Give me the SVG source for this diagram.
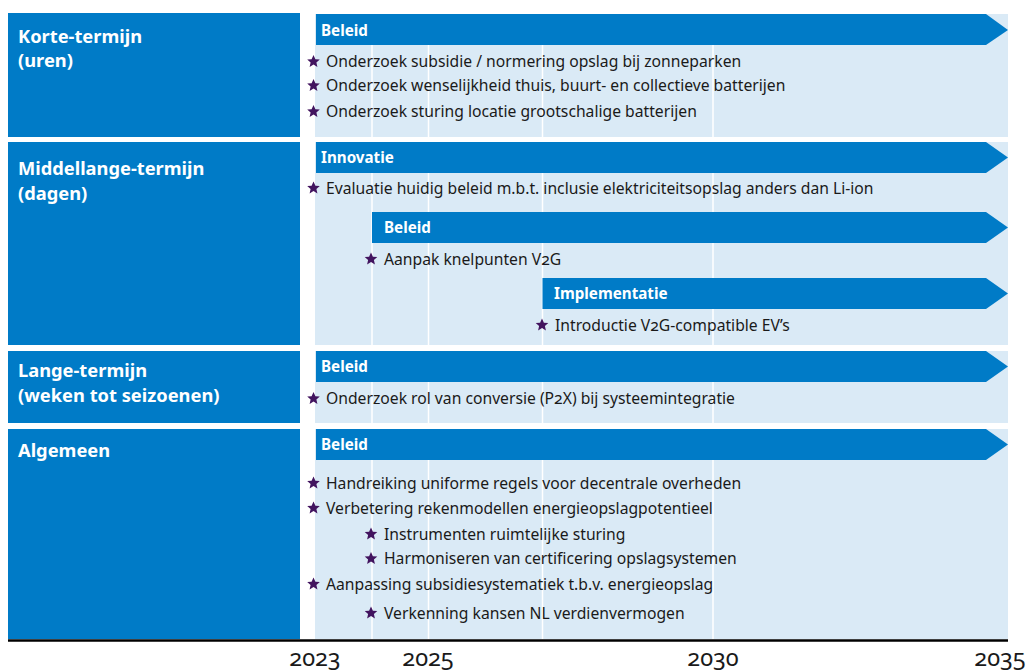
<svg xmlns="http://www.w3.org/2000/svg" width="1028" height="672" viewBox="0 0 1028 672">
<style>
.blk{fill:#007BC7}
.bg{fill:#DAEAF6}
.grid{stroke:#FFFFFF;stroke-width:1.5}
.bar{fill:#007BC7}
.hdr{font-family:"Noto Sans","Open Sans",sans-serif;font-weight:700;font-size:18.3px;fill:#FFFFFF}
.lbl{font-family:"Noto Sans","Open Sans",sans-serif;font-weight:700;font-size:15.2px;fill:#FFFFFF}
.itm{font-family:"Noto Sans","Open Sans",sans-serif;font-size:15.7px;fill:#1A1A1A;font-feature-settings:"onum"}
.yr{font-family:"Noto Sans","Open Sans",sans-serif;font-size:23.5px;fill:#1A1A1A;font-feature-settings:"onum";text-anchor:middle}
.star{fill:#42145F}
</style>
<defs>
<path id="star" d="M0,-6.5 L1.9,-2.3 L6.3,-2 L2.9,0.9 L3.9,5.4 L0,3 L-3.9,5.4 L-2.9,0.9 L-6.3,-2 L-1.9,-2.3 Z"/>
</defs>

<!-- background bands -->
<g id="background">
<rect class="bg" x="315" y="14" width="693" height="123"/>
<rect class="bg" x="315" y="142" width="693" height="203"/>
<rect class="bg" x="315" y="351" width="693" height="72"/>
<rect class="bg" x="315" y="429" width="693" height="210"/>
<line class="grid" x1="372" y1="14" x2="372" y2="639"/>
<line class="grid" x1="428.5" y1="14" x2="428.5" y2="639"/>
<line class="grid" x1="542.5" y1="14" x2="542.5" y2="639"/>
<line class="grid" x1="713" y1="14" x2="713" y2="639"/>
</g>

<!-- row headers -->
<g id="row-kort">
<rect class="blk" x="8" y="13" width="292" height="124"/>
<text class="hdr" x="18" y="43">Korte-termijn</text>
<text class="hdr" x="18" y="67">(uren)</text>
</g>
<g id="row-middel">
<rect class="blk" x="8" y="142" width="292" height="203"/>
<text class="hdr" x="18" y="175">Middellange-termijn</text>
<text class="hdr" x="18" y="200">(dagen)</text>
</g>
<g id="row-lang">
<rect class="blk" x="8" y="351" width="292" height="72"/>
<text class="hdr" x="18" y="377">Lange-termijn</text>
<text class="hdr" x="18" y="402">(weken tot seizoenen)</text>
</g>
<g id="row-algemeen">
<rect class="blk" x="8" y="429" width="292" height="210"/>
<text class="hdr" x="18" y="457">Algemeen</text>
</g>

<!-- phase bars -->
<g id="bar-kort-beleid">
<path class="bar" d="M316,14 H986 L1008,30 L986,45 H316 Z"/>
<text class="lbl" x="321" y="36">Beleid</text>
</g>
<g id="bar-middel-innovatie">
<path class="bar" d="M316,142 H986 L1008,157.5 L986,173 H316 Z"/>
<text class="lbl" x="321" y="163">Innovatie</text>
</g>
<g id="bar-middel-beleid">
<path class="bar" d="M372,212 H986 L1008,227.5 L986,243 H372 Z"/>
<text class="lbl" x="384" y="233">Beleid</text>
</g>
<g id="bar-middel-implementatie">
<path class="bar" d="M542.5,278 H986 L1008,293.5 L986,309 H542.5 Z"/>
<text class="lbl" x="554" y="299">Implementatie</text>
</g>
<g id="bar-lang-beleid">
<path class="bar" d="M316,351 H986 L1008,366.5 L986,382 H316 Z"/>
<text class="lbl" x="321" y="372">Beleid</text>
</g>
<g id="bar-algemeen-beleid">
<path class="bar" d="M316,429 H986 L1008,444.5 L986,460 H316 Z"/>
<text class="lbl" x="321" y="450">Beleid</text>
</g>

<!-- items -->
<g id="items">
<use href="#star" class="star" x="313.5" y="61.5"/><text class="itm" x="326" y="67">Onderzoek subsidie / normering opslag bij zonneparken</text>
<use href="#star" class="star" x="313.5" y="85.5"/><text class="itm" x="326" y="91">Onderzoek wenselijkheid thuis, buurt- en collectieve batterijen</text>
<use href="#star" class="star" x="313.5" y="111.5"/><text class="itm" x="326" y="117">Onderzoek sturing locatie grootschalige batterijen</text>
<use href="#star" class="star" x="313.5" y="188"/><text class="itm" x="326" y="193.5">Evaluatie huidig beleid m.b.t. inclusie elektriciteitsopslag anders dan Li-ion</text>
<use href="#star" class="star" x="371" y="259"/><text class="itm" x="384" y="264.5">Aanpak knelpunten V2G</text>
<use href="#star" class="star" x="542" y="325"/><text class="itm" x="555" y="330.5">Introductie V2G-compatible EV’s</text>
<use href="#star" class="star" x="313.5" y="398.5"/><text class="itm" x="326" y="404">Onderzoek rol van conversie (P2X) bij systeemintegratie</text>
<use href="#star" class="star" x="313.5" y="483"/><text class="itm" x="326" y="488.5">Handreiking uniforme regels voor decentrale overheden</text>
<use href="#star" class="star" x="313.5" y="508"/><text class="itm" x="326" y="513.5">Verbetering rekenmodellen energieopslagpotentieel</text>
<use href="#star" class="star" x="371" y="534"/><text class="itm" x="384" y="539.5">Instrumenten ruimtelijke sturing</text>
<use href="#star" class="star" x="371" y="558.5"/><text class="itm" x="384" y="564">Harmoniseren van certificering opslagsystemen</text>
<use href="#star" class="star" x="313.5" y="584"/><text class="itm" x="326" y="589.5">Aanpassing subsidiesystematiek t.b.v. energieopslag</text>
<use href="#star" class="star" x="371" y="613"/><text class="itm" x="384" y="618.5">Verkenning kansen NL verdienvermogen</text>
</g>

<!-- axis -->
<g id="axis">
<line x1="8" y1="640.5" x2="1008" y2="640.5" stroke="#000000" stroke-width="2.5"/>
<text class="yr" x="315" y="666">2023</text>
<text class="yr" x="428" y="666">2025</text>
<text class="yr" x="713" y="666">2030</text>
<text class="yr" x="1000" y="666">2035</text>
</g>
</svg>
